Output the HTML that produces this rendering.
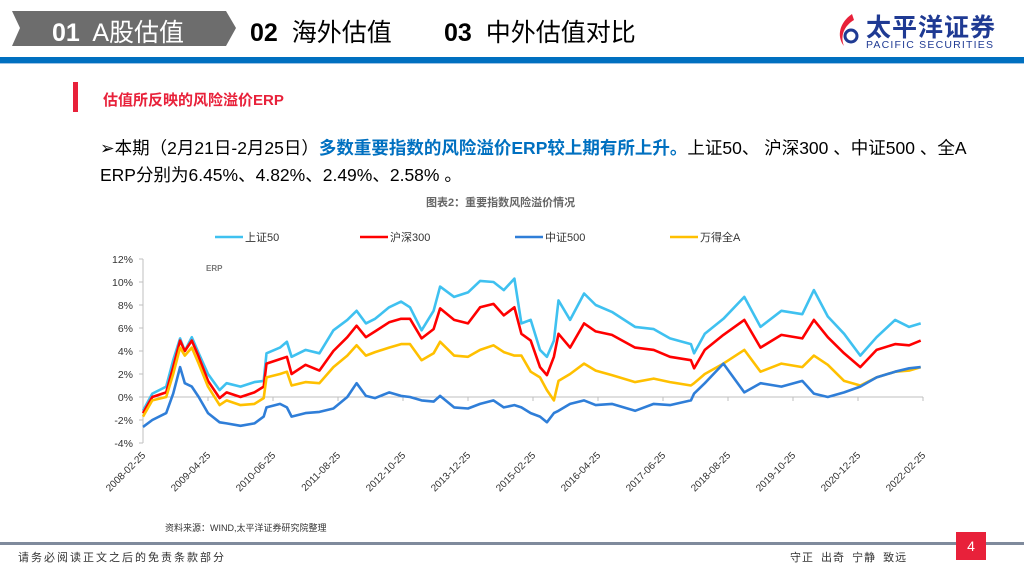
<!DOCTYPE html>
<html><head><meta charset="utf-8">
<style>
body{margin:0;width:1024px;height:576px;overflow:hidden;background:#fff;position:relative;font-family:"Liberation Sans","Noto Sans CJK SC",sans-serif}
.a{position:absolute;white-space:nowrap}
</style></head><body>
<svg class="a" style="left:0;top:0" width="1024" height="70">
<polygon points="12,11 226,11 236,28 226,46 12,46 20,28" fill="#6d6d6d"/>
<rect x="0" y="57" width="1024" height="6" fill="#0070c0"/>
<rect x="0" y="63" width="1024" height="1" fill="#9dc3e6"/>
</svg>
<div class="a" style="left:52px;top:13px;font-size:25px;color:#fff"><b>01</b>&nbsp; A股估值</div>
<div class="a" style="left:250px;top:13px;font-size:25px;color:#000"><b>02</b>&nbsp; 海外估值</div>
<div class="a" style="left:444px;top:13px;font-size:25px;color:#000"><b>03</b>&nbsp; 中外估值对比</div>
<svg class="a" style="left:836px;top:12px" width="26" height="38">
<path d="M16,2 C4,10 0,24 8,34 C4,24 8,14 18,8 Z" fill="#e8213a"/>
<circle cx="15" cy="24" r="6" fill="none" stroke="#1f3a93" stroke-width="3"/>
</svg>
<div class="a" style="left:866px;top:8px;font-size:25px;font-weight:bold;color:#1f3a93;letter-spacing:1px">太平洋证券</div>
<div class="a" style="left:866px;top:39px;font-size:10.5px;color:#1f3a93;letter-spacing:1.2px">PACIFIC SECURITIES</div>
<div class="a" style="left:73px;top:82px;width:5px;height:30px;background:#e8213a"></div>
<div class="a" style="left:103px;top:89px;font-size:15px;font-weight:bold;color:#e8213a">估值所反映的风险溢价ERP</div>
<div class="a" style="left:100px;top:135px;font-size:17.5px;color:#000">➢本期（2月21日-2月25日）<b style="color:#0070c0">多数重要指数的风险溢价ERP较上期有所上升。</b>上证50、 沪深300 、中证500 、全A</div>
<div class="a" style="left:100px;top:162px;font-size:17.5px;color:#000">ERP分别为6.45%、4.82%、2.49%、2.58% 。</div>
<div class="a" style="left:426px;top:194px;font-size:11px;font-weight:bold;color:#666">图表2：重要指数风险溢价情况</div>
<svg id="chart" class="a" style="left:0;top:0" width="1024" height="576"></svg>
<div class="a" style="left:165px;top:521px;font-size:9px;color:#333">资料来源：WIND,太平洋证券研究院整理</div>
<div class="a" style="left:0;top:542px;width:1024px;height:3px;background:#7f8a9c"></div>
<div class="a" style="left:18px;top:549px;font-size:11px;color:#333;letter-spacing:2px">请务必阅读正文之后的免责条款部分</div>
<div class="a" style="left:790px;top:549px;font-size:11px;color:#333;word-spacing:3px;letter-spacing:1px">守正 出奇 宁静 致远</div>
<div class="a" style="left:956px;top:532px;width:30px;height:28px;background:#e8213a;color:#fff;font-size:14px;text-align:center;line-height:28px">4</div>
<script>
const months=[0,2,5,6.5,8,9,10.5,12,14,16.5,18,21,24,26,26.6,29.5,31,32,35,38,41,44,46,48,50,53,55.6,57.5,60,62.6,64,67,70,72.6,75.5,77.7,80,81.5,83.5,85.5,87,88.5,89.5,92,95,97.5,101,106,110,113.5,118,118.7,121,125,129.5,133,137.5,142,144.5,147.5,151,154.5,158,162,165,167.5];
const sz50=[-1.2,0.3,0.9,3.2,5.1,4,5.2,3.8,2,0.6,1.2,0.9,1.3,1.4,3.8,4.3,4.8,3.5,4.1,3.8,5.8,6.7,7.5,6.4,6.8,7.8,8.3,7.8,5.8,7.5,9.6,8.7,9.1,10.1,10,9.3,10.3,6.4,6.7,4.1,3.5,4.9,8.4,6.7,9,8,7.4,6.1,5.9,5.1,4.6,3.8,5.5,6.8,8.7,6.1,7.5,7.2,9.3,7,5.5,3.6,5.2,6.7,6.1,6.4];
const hs300=[-1.4,0,0.4,2.6,4.9,4,4.9,3.5,1.4,-0.1,0.4,0,0.4,0.9,2.9,3.3,3.5,2,2.8,2.3,4,5.2,6.2,5.2,5.7,6.5,6.8,6.8,5.1,5.9,7.7,6.7,6.4,7.8,8.1,7.1,7.8,5.5,4.9,2.6,1.9,3.5,5.5,4.3,6.4,5.7,5.4,4.3,4.1,3.5,3.2,2.5,4.1,5.4,6.7,4.3,5.4,5.1,6.7,5.2,3.8,2.6,4.1,4.6,4.5,4.9];
const zz500=[-2.6,-2,-1.4,0.3,2.6,1.2,0.9,0,-1.4,-2.2,-2.3,-2.5,-2.3,-1.7,-0.9,-0.6,-0.9,-1.7,-1.4,-1.3,-1,0,1.2,0.1,-0.1,0.4,0.1,0,-0.3,-0.4,0.1,-0.9,-1,-0.6,-0.3,-0.9,-0.7,-0.9,-1.4,-1.7,-2.2,-1.4,-1.2,-0.6,-0.3,-0.7,-0.6,-1.2,-0.6,-0.7,-0.3,0.3,1.2,2.9,0.4,1.2,0.9,1.4,0.3,0,0.4,0.9,1.7,2.2,2.5,2.6];
const wdqa=[-1.7,-0.3,0,2,4.3,3.6,4.3,2.9,0.9,-0.7,-0.3,-0.7,-0.6,-0.1,1.7,2,2.2,1,1.3,1.2,2.6,3.6,4.5,3.6,3.9,4.3,4.6,4.6,3.2,3.8,4.8,3.6,3.5,4.1,4.5,3.9,3.6,3.6,2.2,1.7,0.6,-0.3,1.4,2,2.9,2.3,1.9,1.3,1.6,1.3,1,1.2,2,2.9,4.1,2.2,2.9,2.6,3.6,2.8,1.4,1,1.7,2.2,2.3,2.6];
const yTicks=[12,10,8,6,4,2,0,-2,-4];
const xLabels=["2008-02-25","2009-04-25","2010-06-25","2011-08-25","2012-10-25","2013-12-25","2015-02-25","2016-04-25","2017-06-25","2018-08-25","2019-10-25","2020-12-25","2022-02-25"];
const seriesNames=["上证50","沪深300","中证500","万得全A"];
const seriesColors=["#3fc1f0","#ff0000","#2f7ed8","#ffc000"];
const seriesData=[sz50,hs300,zz500,wdqa];
const NS="http://www.w3.org/2000/svg";
const svg=document.getElementById('chart');
const X0=143,X1=923,Y0=397,PER=11.5;
const xs=m=>X0+(m/168)*(X1-X0);
const ys=v=>Y0-v*PER;
function mk(t,a){const e=document.createElementNS(NS,t);for(const k in a)e.setAttribute(k,a[k]);svg.appendChild(e);return e;}
const yAxis=mk('line',{x1:X0,y1:ys(12),x2:X0,y2:ys(-4),stroke:'#bfbfbf'});


yTicks.forEach(v=>{
 const tk=mk('line',{x1:X0-4,y1:ys(v),x2:X0,y2:ys(v),stroke:'#bfbfbf'});
 
 
 const t=mk('text',{x:X0-10,y:ys(v)+4,'text-anchor':'end','font-size':'10.5','fill':'#333','font-family':'Liberation Sans, sans-serif'});
 t.textContent=v+'%';
 
 
});
const xAxis=mk('line',{x1:X0,y1:Y0,x2:X1,y2:Y0,stroke:'#bfbfbf'});


xLabels.forEach((l,i)=>{
 const x=X0+i*(X1-X0)/(xLabels.length-1);
 const tk=mk('line',{x1:x,y1:Y0,x2:x,y2:Y0+4,stroke:'#bfbfbf'});
 
 
 const t=mk('text',{x:x+3,y:456,'text-anchor':'end','font-size':'10','fill':'#333',transform:`rotate(-45 ${x+3} 456)`,'font-family':'Liberation Sans, sans-serif'});
 t.textContent=l;
 
 
});
const erp=mk('text',{x:206,y:271,'font-size':'8','font-weight':'bold','fill':'#777','font-family':'Liberation Sans, sans-serif'});
erp.textContent='ERP';


[0,1,3,2].forEach(si=>{
 const pts=months.map((m,i)=>xs(m).toFixed(1)+','+ys(seriesData[si][i]).toFixed(1)).join(' ');
 const p=mk('polyline',{points:pts,fill:'none',stroke:seriesColors[si],'stroke-width':'2.6','stroke-linejoin':'round'});
 
 
});
const lx=[215,360,515,670];
seriesNames.forEach((n,i)=>{
 const l=mk('line',{x1:lx[i],y1:237,x2:lx[i]+28,y2:237,stroke:seriesColors[i],'stroke-width':'2.5'});
 
 
 const t=mk('text',{x:lx[i]+30,y:241,'font-size':'11','fill':'#333','font-family':'Liberation Sans, Noto Sans CJK SC, sans-serif'});
 t.textContent=n;
 
 
});
</script>
</body></html>
